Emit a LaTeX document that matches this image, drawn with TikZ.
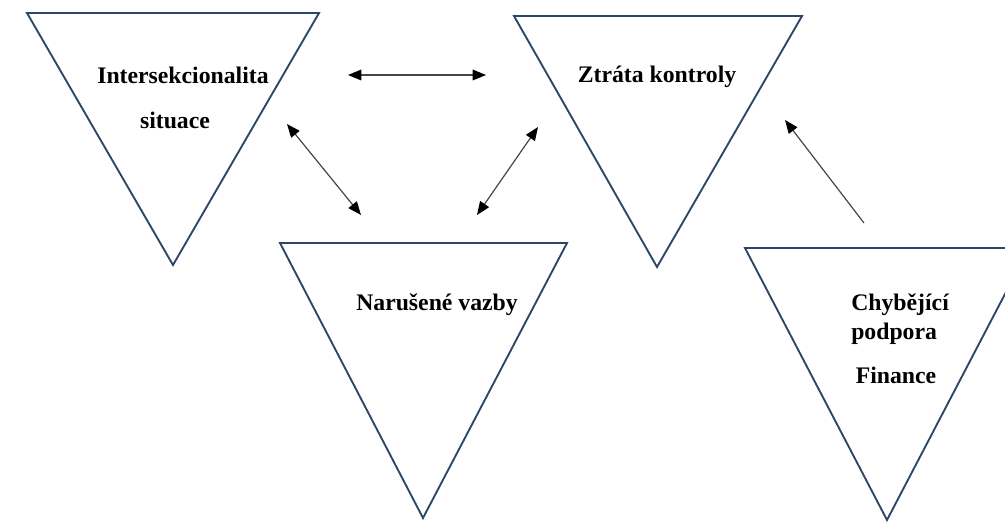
\documentclass[tikz,border=0pt]{standalone}
\usepackage{fontspec}
\setmainfont{Liberation Serif}
\usetikzlibrary{arrows.meta}
\definecolor{triblue}{RGB}{44,70,105}
\definecolor{arrgray}{RGB}{70,70,70}
\begin{document}
\begin{tikzpicture}[
            x=0.75pt, y=-0.75pt,
            tri/.style={draw=triblue, line width=1.4pt, line join=miter},
            lbl/.style={inner sep=0pt, anchor=base, font=\fontsize{17.8}{21}\selectfont\bfseries},
            tip/.style={Triangle[length=10pt,width=8pt,color=black]},
            arrow/.style={draw=arrgray, line width=0.9pt, -{Triangle[length=10pt,width=8pt,color=black]}},
            darrow/.style={arrow, {Triangle[length=10pt,width=8pt,color=black]}-{Triangle[length=10pt,width=8pt,color=black]}}
        ]
            \clip (0,0) rectangle (1005,521);
            \fill[white] (0,0) rectangle (1005,521);

            % triangles
            \draw[tri] (27,13) -- (319,13) -- (173,265) -- cycle;
            \draw[tri] (514,16) -- (802,16) -- (657,267) -- cycle;
            \draw[tri] (280,243) -- (567,243) -- (423,518) -- cycle;
            \draw[tri] (745,248) -- (1029,248) -- (887,520) -- cycle;

            \node[lbl] (inter) at (183,83) {Intersekcionalita};
            \node[lbl] (situace) at (175,128) {situace};
            \node[lbl] (ztrata) at (657,82) {Ztráta kontroly};
            \node[lbl] (vazby) at (437,310) {Narušené vazby};
            \node[lbl, anchor=base west] (chyb) at (851,310) {Chybějící};
            \node[lbl, anchor=base west] (podpora) at (851,339) {podpora};
            \node[lbl] (finance) at (896,383) {Finance};

            % arrow ends
            \coordinate (a1) at (348,75);
            \coordinate (b1) at (486,75);
            \coordinate (a2) at (287,124);
            \coordinate (b2) at (361,215);
            \coordinate (a3) at (477,215);
            \coordinate (b3) at (538,127);
            \coordinate (a4) at (864,223);
            \coordinate (b4) at (785,120);

            \draw[darrow] (a1) -- (b1);
            \draw[darrow] (a2) -- (b2);
            \draw[darrow] (a3) -- (b3);
            \draw[arrow] (a4) -- (b4);
        \end{tikzpicture}
\end{document}
